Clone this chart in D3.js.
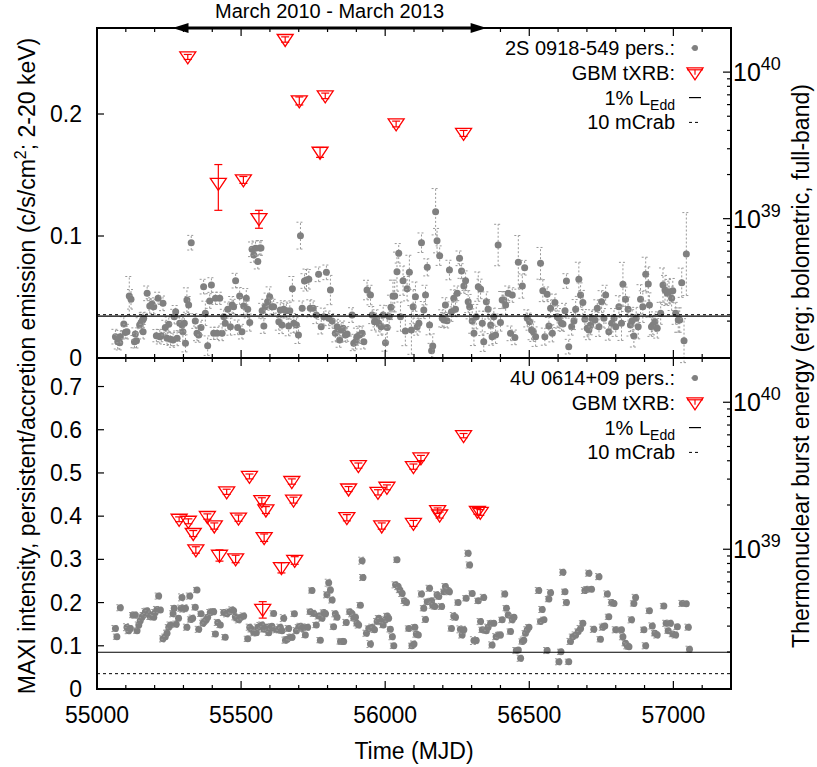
<!DOCTYPE html>
<html>
<head>
<meta charset="utf-8">
<script src="https://cdn.jsdelivr.net/npm/d3@7"></script>
<style>
  body { margin: 0; background: #fff; }
  svg text { font-family: "Liberation Sans", Arial, Helvetica, sans-serif; fill: #000; }
</style>
</head>
<body>
<svg id="chart" width="817" height="767"></svg>
<script>
// MAXI persistent rate of 2S 0918-549: [MJD, c/s/cm2, error]
var topPersistent = [
  [55064,0.0175,0.006],[55072,0.0134,0.006],[55079,0.0126,0.006],[55081,0.0175,0.005],[55093,0.0279,0.006],[55098,0.0208,0.005],[55104,0.0216,0.006],
  [55112,0.0508,0.016],[55118,0.0481,0.008],[55130,0.0134,0.005],[55133,0.0197,0.005],[55137,0.0142,0.006],
  [55148,0.0270,0.006],[55153,0.0290,0.005],[55159,0.0311,0.006],[55160,0.0216,0.006],[55162,0.0325,0.005],
  [55174,0.0530,0.006],[55183,0.0426,0.006],[55191,0.0443,0.005],[55197,0.0421,0.006],
  [55206,0.0183,0.005],[55212,0.0489,0.005],[55218,0.0175,0.006],[55223,0.0183,0.005],[55229,0.0448,0.006],
  [55237,0.0249,0.006],[55243,0.0161,0.005],[55249,0.0276,0.006],[55255,0.0153,0.005],
  [55264,0.0148,0.006],[55268,0.0339,0.006],[55273,0.0380,0.005],[55278,0.0161,0.006],
  [55287,0.0284,0.006],[55295,0.0270,0.006],[55298,0.0216,0.008],[55303,0.0284,0.007],[55307,0.0120,0.007],
  [55312,0.0475,0.010],[55318,0.0434,0.007],[55327,0.0945,0.006],
  [55341,0.0303,0.006],[55347,0.0202,0.006],[55353,0.0189,0.006],[55361,0.0249,0.006],[55370,0.0585,0.006],[55376,0.0366,0.010],
  [55384,0.0101,0.008],[55391,0.0467,0.006],[55397,0.0598,0.006],
  [55405,0.0202,0.005],[55411,0.0489,0.005],[55417,0.0202,0.005],[55426,0.0489,0.005],[55434,0.0202,0.006],
  [55440,0.0339,0.006],[55445,0.0284,0.006],[55454,0.0399,0.006],[55463,0.0257,0.007],[55469,0.0434,0.007],[55474,0.0421,0.006],
  [55481,0.0634,0.006],[55488,0.0251,0.006],[55495,0.0508,0.007],[55503,0.0216,0.006],[55509,0.0426,0.007],[55518,0.0489,0.008],[55523,0.0399,0.007],[55530,0.0290,0.007],
  [55538,0.0891,0.006],[55544,0.0844,0.006],[55550,0.0899,0.006],[55558,0.0790,0.006],[55565,0.0902,0.006],[55569,0.0902,0.006],
  [55573,0.0388,0.006],[55579,0.0262,0.006],[55584,0.0421,0.006],[55592,0.0462,0.007],[55599,0.0503,0.008],[55607,0.0421,0.007],[55613,0.0421,0.006],
  [55631,0.0298,0.007],[55636,0.0393,0.006],[55642,0.0270,0.007],[55648,0.0399,0.007],[55657,0.0388,0.006],[55665,0.0262,0.008],[55669,0.0388,0.007],
  [55678,0.0568,0.010],[55683,0.0284,0.008],[55692,0.0270,0.006],[55699,0.0189,0.007],[55706,0.1003,0.011],
  [55712,0.0407,0.006],[55720,0.0631,0.006],[55727,0.0639,0.009],[55735,0.0645,0.008],[55740,0.0407,0.007],[55750,0.0407,0.006],[55761,0.0352,0.007],
  [55769,0.0686,0.006],[55778,0.0257,0.006],[55787,0.0339,0.007],[55796,0.0702,0.006],[55804,0.0325,0.006],[55810,0.0557,0.012],[55816,0.0303,0.006],
  [55827,0.0202,0.007],[55833,0.0257,0.006],[55842,0.0148,0.006],[55847,0.0230,0.006],[55854,0.0243,0.006],[55862,0.0189,0.006],[55868,0.0197,0.006],
  [55885,0.0352,0.006],[55891,0.0120,0.006],[55897,0.0134,0.006],[55902,0.0175,0.007],[55911,0.0189,0.007],[55920,0.0202,0.006],[55926,0.0134,0.006],
  [55937,0.0557,0.008],[55949,0.0516,0.008],[55955,0.0352,0.007],[55963,0.0298,0.007],[55970,0.0325,0.007],[55978,0.0284,0.007],[55986,0.0257,0.007],
  [55993,0.0352,0.008],[56001,0.0126,0.007],[56007,0.0251,0.012],[56014,0.0339,0.009],[56020,0.0415,0.010],
  [56027,0.0508,0.013],[56033,0.0508,0.013],[56041,0.0708,0.016],[56047,0.0858,0.008],[56053,0.0339,0.012],[56062,0.0634,0.012],[56070,0.0221,0.012],
  [56076,0.0568,0.010],[56084,0.0702,0.014],[56091,0.0230,0.020],[56097,0.0421,0.014],[56105,0.0503,0.012],
  [56111,0.0257,0.007],[56117,0.0284,0.007],[56126,0.0945,0.008],[56134,0.0393,0.007],[56140,0.0516,0.008],[56146,0.0743,0.007],[56154,0.0270,0.008],
  [56161,0.0060,0.006],[56165,0.0098,0.010],[56175,0.1199,0.019],[56180,0.0962,0.010],[56189,0.0839,0.008],[56198,0.0325,0.007],[56204,0.0311,0.006],
  [56209,0.0434,0.006],[56215,0.0306,0.006],[56223,0.0721,0.008],[56230,0.0380,0.008],[56238,0.0489,0.007],[56244,0.0399,0.006],[56250,0.0530,0.006],
  [56258,0.0817,0.006],[56265,0.0713,0.006],[56273,0.0590,0.006],[56279,0.0634,0.008],[56288,0.0462,0.009],[56293,0.0421,0.010],[56302,0.0303,0.010],
  [56308,0.0202,0.010],[56316,0.0339,0.010],[56323,0.0585,0.012],[56331,0.0566,0.008],[56337,0.0284,0.010],[56342,0.0134,0.008],[56351,0.0462,0.008],
  [56357,0.0399,0.008],[56366,0.0270,0.007],[56371,0.0175,0.007],[56377,0.0339,0.007],[56383,0.0189,0.007],[56392,0.0926,0.017],[56400,0.0290,0.007],
  [56406,0.0475,0.007],[56412,0.0475,0.007],[56418,0.0434,0.008],[56427,0.0530,0.006],[56435,0.0202,0.006],[56441,0.0516,0.006],[56450,0.0169,0.006],
  [56462,0.0784,0.022],[56476,0.0590,0.010],[56484,0.0740,0.006],[56493,0.0325,0.007],[56501,0.0298,0.007],[56508,0.0230,0.008],[56514,0.0216,0.008],
  [56522,0.0175,0.008],[56539,0.0776,0.013],[56547,0.0552,0.009],[56554,0.0175,0.007],[56562,0.0522,0.006],[56568,0.0262,0.007],[56574,0.0407,0.007],
  [56580,0.0202,0.007],[56589,0.0454,0.007],[56597,0.0339,0.009],[56603,0.0325,0.008],[56612,0.0284,0.006],[56617,0.0279,0.006],[56624,0.0388,0.006],
  [56629,0.0631,0.006],[56637,0.0093,0.006],[56647,0.0257,0.007],[56655,0.0303,0.007],[56661,0.0399,0.008],[56672,0.0645,0.014],[56678,0.0516,0.010],
  [56686,0.0454,0.010],[56693,0.0317,0.008],[56701,0.0243,0.007],[56707,0.0230,0.008],[56713,0.0270,0.008],[56718,0.0325,0.007],[56728,0.0311,0.007],
  [56736,0.0407,0.007],[56742,0.0257,0.008],[56751,0.0462,0.009],[56759,0.0325,0.008],[56765,0.0516,0.008],[56776,0.0216,0.007],[56786,0.0284,0.007],
  [56794,0.0325,0.008],[56800,0.0257,0.008],[56811,0.0421,0.009],[56820,0.0284,0.014],[56825,0.0604,0.018],[56834,0.0481,0.010],[56843,0.0399,0.010],
  [56851,0.0270,0.009],[56857,0.0306,0.009],[56863,0.0180,0.009],[56871,0.0325,0.009],[56878,0.0257,0.010],[56886,0.0481,0.012],[56894,0.0421,0.013],
  [56904,0.0686,0.014],[56913,0.0607,0.014],[56917,0.0434,0.010],[56924,0.0257,0.008],[56929,0.0270,0.008],[56936,0.0298,0.008],[56944,0.0243,0.008],
  [56956,0.0366,0.009],[56964,0.0598,0.014],[56971,0.0557,0.012],[56979,0.0530,0.010],[56985,0.0544,0.010],[56994,0.0489,0.010],[56998,0.0552,0.010],
  [57008,0.0366,0.009],[57017,0.0311,0.010],[57022,0.0311,0.010],[57029,0.0617,0.012],[57037,0.0142,0.018],[57045,0.0852,0.034]
];

// MAXI persistent rate of 4U 0614+09: [MJD, c/s/cm2, error]
var bottomPersistent = [
  [55064,0.140,0.007],[55069,0.121,0.006],[55081,0.188,0.007],[55104,0.143,0.008],[55110,0.135,0.007],[55116,0.140,0.007],[55125,0.171,0.006],
  [55133,0.171,0.007],[55139,0.135,0.006],[55145,0.148,0.007],[55150,0.158,0.006],[55156,0.166,0.007],[55162,0.171,0.006],[55168,0.179,0.007],
  [55174,0.181,0.006],[55179,0.174,0.007],[55185,0.167,0.006],[55191,0.171,0.007],[55197,0.166,0.006],[55202,0.177,0.007],[55208,0.184,0.007],
  [55214,0.215,0.007],[55220,0.183,0.006],[55229,0.116,0.007],[55237,0.121,0.006],[55243,0.129,0.007],[55249,0.143,0.006],[55255,0.148,0.007],
  [55264,0.174,0.007],[55268,0.187,0.006],[55275,0.150,0.007],[55283,0.164,0.006],[55292,0.187,0.007],[55295,0.212,0.008],[55299,0.185,0.007],
  [55307,0.187,0.008],[55312,0.143,0.007],[55322,0.215,0.007],[55326,0.161,0.006],[55332,0.164,0.007],[55341,0.189,0.006],[55347,0.229,0.006],
  [55353,0.138,0.007],[55361,0.174,0.006],[55368,0.152,0.007],[55373,0.156,0.006],[55379,0.160,0.007],[55384,0.166,0.006],[55393,0.177,0.007],
  [55399,0.179,0.006],[55405,0.179,0.007],[55411,0.127,0.006],[55419,0.154,0.007],[55428,0.148,0.006],[55440,0.177,0.007],[55445,0.120,0.006],
  [55451,0.174,0.007],[55460,0.179,0.006],[55469,0.183,0.007],[55474,0.181,0.006],[55480,0.167,0.007],[55486,0.164,0.006],[55492,0.160,0.007],
  [55500,0.166,0.006],[55509,0.169,0.007],[55523,0.116,0.006],[55530,0.143,0.007],[55536,0.138,0.006],[55544,0.130,0.007],[55553,0.130,0.006],
  [55558,0.143,0.007],[55567,0.146,0.008],[55573,0.148,0.007],[55579,0.138,0.006],[55588,0.143,0.007],[55596,0.130,0.006],[55602,0.140,0.007],
  [55607,0.145,0.006],[55613,0.175,0.006],[55622,0.137,0.007],[55631,0.137,0.006],[55636,0.143,0.007],[55642,0.135,0.006],[55648,0.164,0.008],
  [55654,0.113,0.007],[55660,0.115,0.006],[55665,0.140,0.007],[55671,0.120,0.006],[55677,0.120,0.007],[55685,0.174,0.006],[55692,0.135,0.007],
  [55700,0.143,0.006],[55706,0.145,0.007],[55712,0.140,0.006],[55717,0.143,0.007],[55723,0.125,0.006],[55731,0.143,0.007],[55740,0.179,0.006],
  [55746,0.228,0.006],[55752,0.175,0.007],[55761,0.148,0.006],[55769,0.169,0.007],[55775,0.113,0.006],[55781,0.164,0.007],[55787,0.177,0.006],
  [55793,0.174,0.007],[55798,0.218,0.007],[55804,0.246,0.008],[55810,0.229,0.007],[55816,0.206,0.007],[55821,0.144,0.006],[55827,0.174,0.007],
  [55833,0.166,0.006],[55845,0.110,0.006],[55850,0.110,0.007],[55856,0.110,0.006],[55865,0.154,0.007],[55877,0.179,0.006],[55885,0.174,0.007],
  [55891,0.164,0.006],[55897,0.166,0.007],[55902,0.152,0.006],[55908,0.148,0.007],[55914,0.194,0.006],[55920,0.297,0.008],[55923,0.258,0.007],
  [55935,0.129,0.007],[55943,0.140,0.006],[55949,0.104,0.008],[55955,0.143,0.007],[55963,0.137,0.006],[55972,0.156,0.007],[55978,0.164,0.006],
  [55986,0.156,0.007],[55993,0.148,0.006],[56001,0.160,0.007],[56007,0.169,0.006],[56012,0.164,0.007],[56018,0.138,0.006],[56025,0.121,0.007],
  [56030,0.100,0.006],[56036,0.241,0.007],[56041,0.299,0.006],[56045,0.237,0.007],[56051,0.229,0.006],[56059,0.221,0.007],[56067,0.204,0.006],
  [56074,0.200,0.007],[56082,0.140,0.006],[56093,0.100,0.006],
  [56100,0.104,0.007],[56103,0.143,0.006],[56108,0.127,0.007],[56115,0.125,0.006],[56126,0.220,0.007],[56134,0.187,0.006],[56140,0.161,0.007],
  [56146,0.202,0.006],[56154,0.233,0.007],[56161,0.204,0.006],[56165,0.194,0.007],[56172,0.191,0.006],[56180,0.218,0.007],[56186,0.214,0.006],
  [56196,0.191,0.007],[56204,0.225,0.006],[56209,0.237,0.007],[56219,0.228,0.006],[56223,0.225,0.007],[56230,0.140,0.006],[56238,0.169,0.008],
  [56244,0.166,0.007],[56253,0.200,0.006],[56261,0.138,0.008],[56267,0.125,0.007],[56273,0.137,0.008],[56281,0.210,0.006],[56288,0.314,0.007],
  [56293,0.287,0.007],[56302,0.221,0.006],[56308,0.112,0.009],[56316,0.112,0.007],[56323,0.204,0.006],[56331,0.156,0.007],[56337,0.137,0.006],
  [56342,0.212,0.007],[56351,0.135,0.006],[56357,0.143,0.007],[56366,0.152,0.006],[56371,0.102,0.007],[56377,0.152,0.006],[56385,0.121,0.007],
  [56395,0.125,0.006],[56400,0.125,0.007],[56406,0.160,0.006],[56415,0.220,0.007],[56421,0.187,0.006],[56427,0.171,0.007],[56435,0.133,0.006],
  [56441,0.160,0.007],[56447,0.166,0.006],[56455,0.089,0.007],[56462,0.090,0.006],[56470,0.071,0.007],[56476,0.110,0.006],[56481,0.113,0.007],
  [56487,0.129,0.006],[56493,0.137,0.007],[56499,0.143,0.006],[56533,0.228,0.007],[56539,0.156,0.006],[56545,0.184,0.007],[56551,0.160,0.006],
  [56562,0.089,0.007],[56568,0.208,0.006],[56574,0.223,0.007],[56603,0.063,0.007],[56610,0.086,0.006],[56617,0.270,0.007],[56624,0.225,0.006],
  [56629,0.200,0.007],[56637,0.063,0.006],[56643,0.110,0.007],[56651,0.121,0.006],[56661,0.125,0.007],[56670,0.133,0.006],[56678,0.140,0.007],
  [56686,0.152,0.006],[56693,0.228,0.007],[56701,0.231,0.006],[56707,0.268,0.007],[56716,0.231,0.006],[56724,0.138,0.007],[56742,0.260,0.007],
  [56747,0.115,0.006],[56755,0.143,0.007],[56762,0.146,0.006],[56771,0.220,0.007],[56776,0.167,0.006],[56786,0.200,0.007],[56794,0.198,0.006],
  [56800,0.137,0.007],[56820,0.137,0.006],[56825,0.121,0.007],[56834,0.106,0.006],[56840,0.100,0.007],[56846,0.098,0.006],[56855,0.160,0.007],
  [56863,0.198,0.006],[56869,0.212,0.007],[56898,0.137,0.006],[56904,0.100,0.007],[56917,0.181,0.006],[56927,0.146,0.007],[56936,0.129,0.006],
  [56944,0.125,0.007],[56967,0.192,0.006],[56975,0.152,0.007],[56982,0.135,0.006],[56990,0.152,0.007],[56998,0.127,0.006],[57008,0.125,0.007],
  [57014,0.144,0.006],[57031,0.198,0.007],[57045,0.197,0.006],[57052,0.143,0.007],[57056,0.092,0.007]
];

// GBM thermonuclear bursts: [MJD, energy (erg), error]
var topBursts = [
  [55315,1.27e40,0.05e40],[55421,1.74e39,0.6e39],[55508,1.84e39,0.1e39],[55562,1.0e39,0.14e39],[55653,1.67e40,0.07e40],
  [55702,6.37e39,0.4e39],[55774,2.84e39,0.22e39],[55792,6.89e39,0.3e39],[56038,4.43e39,0.2e39],[56272,3.82e39,0.18e39]
];
var bottomBursts = [
  [55285,1.60e39,0.06e39],[55317,1.55e39,0.06e39],[55334,1.28e39,0.06e39],[55343,0.99e39,0.05e39],[55383,1.67e39,0.07e39],
  [55407,1.44e39,0.07e39],[55425,0.91e39,0.08e39],[55450,2.46e39,0.1e39],[55481,0.86e39,0.05e39],[55491,1.63e39,0.08e39],
  [55529,3.13e39,0.12e39],[55572,2.14e39,0.1e39],[55575,0.39e39,0.05e39],[55580,1.20e39,0.07e39],[55586,1.85e39,0.1e39],
  [55640,0.75e39,0.06e39],[55676,2.89e39,0.12e39],[55682,2.16e39,0.1e39],[55686,0.84e39,0.05e39],[55867,1.64e39,0.08e39],
  [55873,2.57e39,0.1e39],[55907,3.71e39,0.15e39],[55975,2.44e39,0.1e39],[55988,1.44e39,0.07e39],[56006,2.64e39,0.1e39],
  [56098,1.50e39,0.07e39],[56098,3.65e39,0.15e39],[56124,4.18e39,0.17e39],[56182,1.83e39,0.08e39],[56189,1.71e39,0.08e39],
  [56272,5.93e39,0.2e39],[56320,1.81e39,0.08e39],[56330,1.78e39,0.08e39]
];

// reference levels [top panel, bottom panel]
var eddLevels = [0.0344, 0.085];
var crabLevels = [0.0355, 0.0355];

var sourceNames = ["2S 0918-549 pers.:", "4U 0614+09 pers.:"];
var xTicks = [55000, 55500, 56000, 56500, 57000];
var topYTicks = [0, 0.1, 0.2];
var bottomYTicks = [0, 0.1, 0.2, 0.3, 0.4, 0.5, 0.6, 0.7];
var energyTicks = [1e39, 1e40];
var arrowRange = [55262, 56352];

var svg = d3.select("#chart");
var left = 97, right = 731;
var grey = "#808080", red = "#ff0000";

var x = d3.scaleLinear().domain([55000, 57200]).range([left, right]);

var panels = [
  { top: 28, bottom: 358, yMax: 0.2705, data: topPersistent, bursts: topBursts, yTicks: topYTicks, i: 0, legendY: 48 },
  { top: 358, bottom: 689, yMax: 0.766, data: bottomPersistent, bursts: bottomBursts, yTicks: bottomYTicks, i: 1, legendY: 378 }
];
var fmt = d3.format(".1f");

panels.forEach(function(p) {
  var y = d3.scaleLinear().domain([0, p.yMax]).range([p.bottom, p.top]);
  var e = d3.scaleLog().domain([1.12e38, 2e40]).range([p.bottom, p.top]);
  var g = svg.append("g");

  // persistent points with dashed error bars
  var pts = g.append("g").selectAll("g").data(p.data).enter().append("g");
  pts.append("line")
    .attr("x1", function(d) { return x(d[0]); }).attr("x2", function(d) { return x(d[0]); })
    .attr("y1", function(d) { return y(d[1] - d[2]); }).attr("y2", function(d) { return y(d[1] + d[2]); })
    .attr("stroke", "#999").attr("stroke-width", 1).attr("stroke-dasharray", "2,2");
  [-1, 1].forEach(function(s) {
    pts.append("line")
      .attr("x1", function(d) { return x(d[0]) - 4; }).attr("x2", function(d) { return x(d[0]) + 4; })
      .attr("y1", function(d) { return y(d[1] + s * d[2]); }).attr("y2", function(d) { return y(d[1] + s * d[2]); })
      .attr("stroke", "#999").attr("stroke-width", 1).attr("stroke-dasharray", "2,2");
  });
  pts.append("circle")
    .attr("cx", function(d) { return x(d[0]); })
    .attr("cy", function(d) { return y(d[1]); })
    .attr("r", 3.5).attr("fill", grey);

  // reference lines
  g.append("line").attr("x1", left).attr("x2", right)
    .attr("y1", y(eddLevels[p.i])).attr("y2", y(eddLevels[p.i]))
    .attr("stroke", "#000").attr("stroke-width", 1.2);
  g.append("line").attr("x1", left).attr("x2", right)
    .attr("y1", y(crabLevels[p.i])).attr("y2", y(crabLevels[p.i]))
    .attr("stroke", "#000").attr("stroke-width", 1).attr("stroke-dasharray", "3,3");

  // bursts (right axis, log energy)
  var b = g.append("g").selectAll("g").data(p.bursts).enter().append("g");
  b.append("line")
    .attr("x1", function(d) { return x(d[0]); }).attr("x2", function(d) { return x(d[0]); })
    .attr("y1", function(d) { return e(d[1] - d[2]); }).attr("y2", function(d) { return e(d[1] + d[2]); })
    .attr("stroke", red).attr("stroke-width", 1.2);
  [-1, 1].forEach(function(s) {
    b.append("line")
      .attr("x1", function(d) { return x(d[0]) - 4; }).attr("x2", function(d) { return x(d[0]) + 4; })
      .attr("y1", function(d) { return e(d[1] + s * d[2]); }).attr("y2", function(d) { return e(d[1] + s * d[2]); })
      .attr("stroke", red).attr("stroke-width", 1.2);
  });
  b.append("path")
    .attr("d", function(d) {
      var cx = x(d[0]), cy = e(d[1]);
      return "M" + (cx - 8) + "," + (cy - 5) + "L" + (cx + 8) + "," + (cy - 5) + "L" + cx + "," + (cy + 7) + "Z";
    })
    .attr("fill", "none").attr("stroke", red).attr("stroke-width", 1.3);

  // frame
  g.append("rect").attr("x", left).attr("y", p.top)
    .attr("width", right - left).attr("height", p.bottom - p.top)
    .attr("fill", "none").attr("stroke", "#000").attr("stroke-width", 2);

  // x ticks, top and bottom of panel, inward
  d3.range(55000, 57201, 100).forEach(function(v) {
    var len = v % 500 === 0 ? 8 : 4;
    g.append("line").attr("x1", x(v)).attr("x2", x(v)).attr("y1", p.bottom).attr("y2", p.bottom - len).attr("stroke", "#000").attr("stroke-width", 1.2);
    g.append("line").attr("x1", x(v)).attr("x2", x(v)).attr("y1", p.top).attr("y2", p.top + len).attr("stroke", "#000").attr("stroke-width", 1.2);
  });

  // left axis
  p.yTicks.forEach(function(v) {
    g.append("line").attr("x1", left).attr("x2", left + 7).attr("y1", y(v)).attr("y2", y(v)).attr("stroke", "#000").attr("stroke-width", 1.2);
    g.append("text").attr("x", 82).attr("y", y(v)).attr("dy", "0.35em")
      .attr("text-anchor", "end").style("font-size", "23px")
      .text(v === 0 ? "0" : fmt(v));
  });

  // right axis, log ticks
  [38, 39, 40].forEach(function(dec) {
    for (var m = 1; m <= 9; m++) {
      var v = m * Math.pow(10, dec);
      if (v < 1.12e38 || v > 2e40) continue;
      var len = m === 1 ? 8 : 4;
      g.append("line").attr("x1", right).attr("x2", right - len).attr("y1", e(v)).attr("y2", e(v)).attr("stroke", "#000").attr("stroke-width", 1.2);
    }
  });
  energyTicks.forEach(function(v) {
    var t = g.append("text").attr("x", 733).attr("y", e(v) + 9).style("font-size", "25px");
    t.append("tspan").text("10");
    t.append("tspan").attr("dy", -11).style("font-size", "18px").text(Math.round(Math.log10(v)));
  });

  // legend
  var ly = p.legendY, step = 24.8, lx = 675, sx = 695;
  var rows = [
    { t: sourceNames[p.i] }, { t: "GBM tXRB:" }, { t: "1% L", sub: "Edd" }, { t: "10 mCrab" }
  ];
  rows.forEach(function(r, k) {
    var t = g.append("text").attr("x", lx).attr("y", ly + k * step).attr("dy", "0.35em")
      .attr("text-anchor", "end").style("font-size", "20px");
    t.append("tspan").text(r.t);
    if (r.sub) t.append("tspan").attr("dy", 5).style("font-size", "14px").text(r.sub);
  });
  var s0 = ly;
  g.append("line").attr("x1", sx - 4).attr("x2", sx + 4).attr("y1", s0).attr("y2", s0).attr("stroke", "#999").attr("stroke-dasharray", "2,2");
  g.append("circle").attr("cx", sx).attr("cy", s0).attr("r", 3).attr("fill", grey);
  var s1 = ly + step;
  g.append("path").attr("d", "M" + (sx - 8) + "," + (s1 - 5) + "L" + (sx + 8) + "," + (s1 - 5) + "L" + sx + "," + (s1 + 7) + "Z")
    .attr("fill", "none").attr("stroke", red).attr("stroke-width", 1.3);
  g.append("line").attr("x1", sx - 8).attr("x2", sx + 8).attr("y1", s1 - 3).attr("y2", s1 - 3).attr("stroke", red).attr("stroke-width", 1.2);
  g.append("line").attr("x1", sx).attr("x2", sx).attr("y1", s1 - 3).attr("y2", s1 + 2).attr("stroke", red).attr("stroke-width", 1.2);
  var s2 = ly + 2 * step;
  g.append("line").attr("x1", sx - 6).attr("x2", sx + 6).attr("y1", s2).attr("y2", s2).attr("stroke", "#000").attr("stroke-width", 1.2);
  var s3 = ly + 3 * step;
  g.append("line").attr("x1", sx - 6).attr("x2", sx + 6).attr("y1", s3).attr("y2", s3).attr("stroke", "#000").attr("stroke-dasharray", "3,3");
});

// x tick labels
xTicks.forEach(function(v) {
  svg.append("text").attr("x", x(v)).attr("y", 723).attr("text-anchor", "middle")
    .style("font-size", "23px").text(v);
});

// axis titles
svg.append("text").attr("x", 414).attr("y", 759).attr("text-anchor", "middle")
  .style("font-size", "23px").text("Time (MJD)");

var lt = svg.append("text").attr("transform", "translate(35,366) rotate(-90)")
  .attr("text-anchor", "middle").style("font-size", "23px");
lt.append("tspan").text("MAXI intensity, persistent/accretion emission (c/s/cm");
lt.append("tspan").attr("dy", -9).style("font-size", "16px").text("2");
lt.append("tspan").attr("dy", 9).text("; 2-20 keV)");

svg.append("text").attr("transform", "translate(809,366) rotate(-90)")
  .attr("text-anchor", "middle").style("font-size", "23px")
  .text("Thermonuclear burst energy (erg; bolometric, full-band)");

// date-range arrow on top of the upper panel
var ay = 28, ax1 = x(arrowRange[0]), ax2 = x(arrowRange[1]);
svg.append("line").attr("x1", ax1 + 10).attr("x2", ax2 - 10).attr("y1", ay).attr("y2", ay)
  .attr("stroke", "#000").attr("stroke-width", 3);
svg.append("path").attr("d", "M" + ax1 + "," + ay + "L" + (ax1 + 16) + "," + (ay - 5) + "L" + (ax1 + 16) + "," + (ay + 5) + "Z").attr("fill", "#000");
svg.append("path").attr("d", "M" + ax2 + "," + ay + "L" + (ax2 - 16) + "," + (ay - 5) + "L" + (ax2 - 16) + "," + (ay + 5) + "Z").attr("fill", "#000");
svg.append("text").attr("x", (ax1 + ax2) / 2).attr("y", 18).attr("text-anchor", "middle")
  .style("font-size", "20px").text("March 2010 - March 2013");
</script>
</body>
</html>
